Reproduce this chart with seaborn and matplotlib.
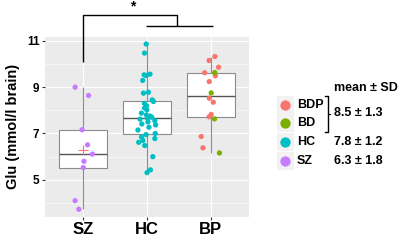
import numpy as np
import pandas as pd
import matplotlib
matplotlib.use("Agg")
import matplotlib.pyplot as plt
import seaborn as sns
from matplotlib.patches import Rectangle

# values
cat_order = ["SZ", "HC", "BP"]
sz_vals = [9.00, 8.64, 7.16, 6.51, 6.11, 5.80, 5.53, 4.10, 3.73]
hc_vals = [5.31, 5.43, 6.00, 6.48, 6.62, 6.70, 6.78, 6.85, 6.95, 7.00, 7.15, 7.27,
           7.37, 7.41, 7.50, 7.55, 7.62, 7.65, 7.70, 7.75, 7.80, 7.88, 8.02, 8.10,
           8.20, 8.30, 8.38, 8.45, 8.74, 8.78, 9.29, 9.50, 9.53, 9.56, 10.47, 10.86]
bdp_vals = [10.32, 10.15, 9.86, 9.62, 9.49, 9.24, 8.52, 8.35, 7.82, 7.72, 6.87, 6.38]
bd_vals = [9.63, 8.75, 7.63, 6.16]

legend_groups = ["BDP", "BD", "HC", "SZ"]
legend_stats = ["8.5 ± 1.3", "7.8 ± 1.2", "6.3 ± 1.8"]
palette = {"BDP": "#F8766D", "BD": "#7CAE00", "HC": "#00BFC4", "SZ": "#C77CFF"}

df = pd.concat([
    pd.DataFrame({"cat": "SZ", "grp": "SZ", "glu": sz_vals}),
    pd.DataFrame({"cat": "HC", "grp": "HC", "glu": hc_vals}),
    pd.DataFrame({"cat": "BP", "grp": "BDP", "glu": bdp_vals}),
    pd.DataFrame({"cat": "BP", "grp": "BD", "glu": bd_vals}),
], ignore_index=True)

plt.rcParams["font.family"] = ["Liberation Sans", "DejaVu Sans"]
plt.rcParams["font.weight"] = "bold"

fig = plt.figure(figsize=(4.0, 2.44), dpi=100)
ax = fig.add_axes([0.1125, 0.111, 0.51, 0.738])
ax.set_facecolor("#EBEBEB")

sns.boxplot(data=df, x="cat", y="glu", order=cat_order, width=0.75, whis=(0, 100),
            showfliers=False, color="white", linecolor="#8c8c8c", linewidth=0.8,
            medianprops=dict(color="#555555", linewidth=1.0),
            capprops=dict(visible=False), ax=ax)
np.random.seed(7)
sns.stripplot(data=df, x="cat", y="glu", hue="grp", order=cat_order, palette=palette,
              jitter=0.15, size=3.8, linewidth=0, legend=False, zorder=3, ax=ax)

# mean marker for SZ
ax.plot(cat_order.index("SZ"), np.mean(sz_vals), marker="+", color="#F8766D",
        markersize=7, markeredgewidth=0.8, zorder=2.5)

ax.set_xlim(-0.6, 2.6)
ax.set_ylim(3.4, 11.17)
ax.set_yticks([5, 7, 9, 11])
ax.set_yticks([4, 6, 8, 10], minor=True)
ax.grid(which="major", color="white", linewidth=0.8)
ax.grid(which="minor", axis="y", color="white", linewidth=0.4)
ax.set_axisbelow(True)
for s in ax.spines.values():
    s.set_visible(False)
ax.tick_params(axis="both", which="major", length=2, color="#333333", pad=2)
ax.tick_params(axis="y", which="minor", length=0)
ax.tick_params(axis="y", labelsize=8.5)
ax.tick_params(axis="x", labelsize=12)
for lab in ax.get_xticklabels() + ax.get_yticklabels():
    lab.set_fontweight("bold")
ax.set_xlabel("")
ax.set_ylabel("Glu (mmol/l brain)", fontsize=10.5, fontweight="bold", labelpad=5)

# significance bracket
kw = dict(color="black", linewidth=1.0, clip_on=False, solid_capstyle="butt")
ax.plot([0, 0, 1.47, 1.47], [10.1, 12.12, 12.12, 11.65], **kw)
ax.plot([0.98, 2.03], [11.65, 11.65], **kw)
ax.text(0.77, 12.2, "*", ha="center", va="bottom", fontsize=10, fontweight="bold",
        clip_on=False)

# legend drawn in pixel space
lax = fig.add_axes([0, 0, 1, 1])
lax.set_xlim(0, 400)
lax.set_ylim(244, 0)
lax.axis("off")
rows = [104.5, 123.2, 142.0, 160.7]
for g, yy in zip(legend_groups, rows):
    lax.add_patch(Rectangle((276.5, yy - 9), 17, 18, facecolor="#F2F2F2", edgecolor="none"))
    lax.scatter([285], [yy], s=55, color=palette[g], linewidths=0)
    lax.text(297, yy, g, ha="left", va="center", fontsize=9, fontweight="bold")
lax.text(334, 88, "mean ± SD", ha="left", va="center", fontsize=9, fontweight="bold")
lax.text(334, 113.5, legend_stats[0], ha="left", va="center", fontsize=9, fontweight="bold")
lax.text(334, rows[2], legend_stats[1], ha="left", va="center", fontsize=9, fontweight="bold")
lax.text(334, rows[3], legend_stats[2], ha="left", va="center", fontsize=9, fontweight="bold")
lax.plot([325, 328, 328, 325], [95.5, 95.5, 131.5, 131.5], color="black", linewidth=1.0)
lax.plot([328, 330], [113.5, 113.5], color="black", linewidth=0.8)

fig.savefig("out.png", dpi=100)
